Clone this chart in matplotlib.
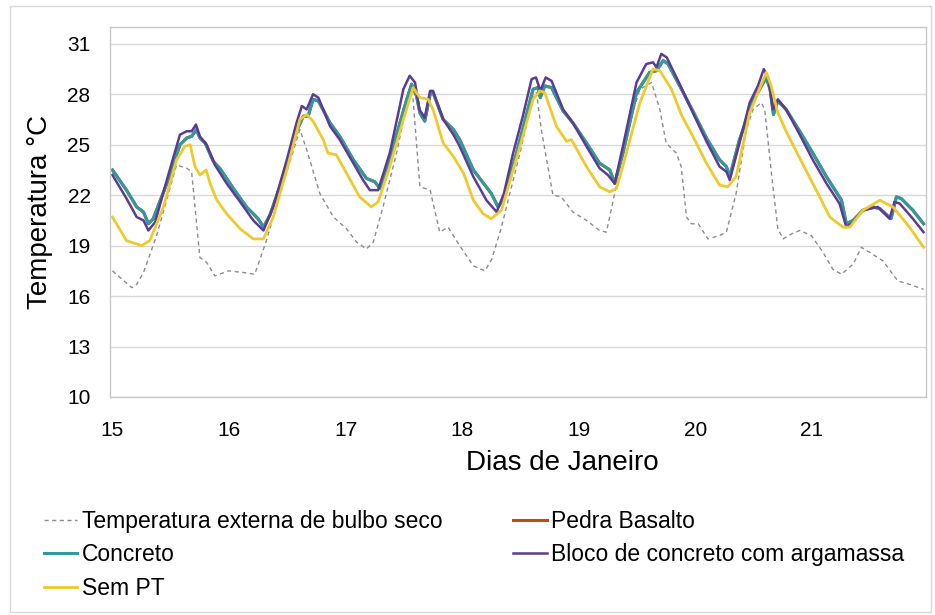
import matplotlib.pyplot as plt
from matplotlib.patches import Rectangle

# hours since 15 Jan 00:00 and temperature (degC)
ext_h = [0, 4, 5, 6.4, 9.1, 13.2, 15.3, 16.3, 18, 19.4, 21.1, 23.9, 27, 29.3,
         31.7, 34.5, 38.6, 40, 42.7, 45.5, 48.2, 50.3, 52.3, 53.7, 55.7, 58.5,
         61.2, 61.9, 63.3, 65.4, 67.4, 69.1, 71.5, 74.3, 76.7, 78.1, 80, 83.9,
         86.6, 87.3, 88.3, 90.7, 92.4, 94.8, 97.6, 100.3, 101.7, 103.4, 105.8,
         108.6, 111, 112.7, 114, 116.1, 117.1, 118.2, 119.2, 120.6, 122.6, 125,
         126.4, 128.4, 130.5, 131.9, 133.6, 134.3, 135.6, 137, 138.1, 139.8,
         141.5, 143.9, 146.3, 148.3, 150.1, 152.5, 154.2, 155.9, 158.6, 161.7,
         164.1, 167]
ext_t = [17.5, 16.5, 16.7, 17.4, 19.6, 23.8, 23.6, 23.4, 18.3, 18.0, 17.2, 17.5,
         17.4, 17.3, 19.3, 22.1, 25.9, 24.7, 22.1, 20.7, 20.0, 19.2, 18.8, 19.2,
         21.3, 24.5, 28.3, 27.7, 22.5, 22.3, 19.8, 20.1, 19.0, 17.8, 17.5, 18.2,
         20.0, 24.5, 27.9, 28.1, 25.9, 22.0, 21.9, 21.0, 20.5, 19.9, 19.8, 22.1,
         25.7, 28.3, 28.7, 27.1, 25.1, 24.5, 23.7, 20.7, 20.3, 20.3, 19.4, 19.6,
         19.8, 22.1, 25.9, 27.1, 27.5, 27.1, 23.5, 20.0, 19.4, 19.7, 19.9, 19.6,
         18.6, 17.6, 17.3, 17.9, 18.9, 18.6, 18.1, 16.9, 16.7, 16.4]

conc_h = [0, 2.9, 5, 6.4, 7.4, 8.4, 11.2, 13.9, 15.3, 16.3, 17.3, 18, 19.1, 20.8,
          22.1, 24.9, 27.6, 30, 31.1, 32.4, 35.2, 37.9, 39.3, 40.3, 41.3, 42.4,
          44.8, 46.8, 49.6, 52.3, 54, 55.1, 57.8, 60.6, 61.6, 62.6, 63.3, 64.3,
          65.4, 66, 68.1, 70.2, 71.5, 74.3, 78, 79.4, 80.6, 83.2, 86.6, 87.6,
          88.1, 89, 90.4, 92.8, 94.8, 97.6, 100.3, 102.4, 103.4, 105.1, 107.9,
          110.6, 112, 113.4, 114.4, 116.8, 119.5, 122.3, 125, 126.4, 127.1,
          129.1, 131.9, 134.6, 135.4, 136.1, 137, 138.7, 141.5, 144.2, 147,
          150.1, 151.1, 152.5, 154.5, 156.6, 158, 160.3, 161.4, 162.4, 164.8, 167]
conc_t = [23.5, 22.3, 21.3, 21.0, 20.3, 20.6, 22.7, 25.0, 25.4, 25.5, 25.9, 25.4,
          25.1, 24.0, 23.6, 22.4, 21.3, 20.6, 20.1, 20.8, 23.1, 25.8, 26.7, 26.7,
          27.7, 27.6, 26.3, 25.5, 24.1, 23.0, 22.8, 22.4, 24.9, 27.7, 28.6, 27.9,
          26.9, 26.4, 28.0, 28.1, 26.5, 25.9, 25.3, 23.5, 22.1, 21.3, 21.8, 24.5,
          28.3, 28.4, 27.8, 28.5, 28.4, 27.0, 26.3, 25.1, 23.9, 23.5, 22.7, 24.5,
          28.1, 29.3, 29.4, 30.0, 29.8, 28.5, 27.0, 25.4, 24.1, 23.7, 23.1, 25.3,
          27.6, 29.0, 28.3, 26.8, 27.6, 27.1, 25.8, 24.5, 23.1, 21.7, 20.3, 20.5,
          21.1, 21.3, 21.2, 20.6, 21.9, 21.8, 21.1, 20.3]

pedra_t = [23.5, 22.3, 21.3, 21.0, 20.3, 20.6, 22.7, 25.0, 25.4, 25.5, 25.9, 25.4,
           25.1, 24.0, 23.6, 22.4, 21.3, 20.6, 20.1, 20.8, 23.1, 25.8, 26.7, 26.7,
           27.7, 27.6, 26.3, 25.5, 24.1, 23.0, 22.8, 22.4, 24.9, 27.7, 28.6, 27.9,
           26.9, 26.4, 28.0, 28.1, 26.5, 25.9, 25.3, 23.5, 22.1, 21.3, 21.8, 24.5,
           28.3, 28.4, 27.8, 28.5, 28.4, 27.0, 26.3, 25.1, 23.9, 23.5, 22.7, 24.5,
           28.1, 29.3, 29.4, 30.0, 29.8, 28.5, 27.0, 25.4, 24.1, 23.7, 23.1, 25.3,
           27.6, 29.0, 28.3, 26.8, 27.6, 27.1, 25.8, 24.5, 23.1, 21.7, 20.3, 20.5,
           21.1, 21.3, 21.2, 20.6, 21.9, 21.8, 21.1, 20.3]

bloco_h = [0, 2.9, 5, 6.4, 7.4, 8.8, 11.2, 13.9, 15.3, 16.3, 17.2, 18, 19.4, 21.1,
           23.5, 26.3, 29, 31.1, 33.1, 35.9, 37.9, 39, 40, 41.3, 42.4, 44.8, 46.8,
           49.6, 51.6, 53, 54.7, 57.1, 59.9, 61.2, 62.3, 63.2, 64.3, 65.4, 66,
           68.1, 70.2, 71.5, 74.3, 77, 79.1, 80.6, 82.5, 84.5, 86.3, 87.2, 88.1,
           89.2, 90.4, 92.8, 94.8, 97.6, 100.3, 102, 103.4, 105.1, 107.9, 109.9,
           111.3, 112, 113, 114.1, 116.8, 119.5, 122.3, 125, 126.4, 127.1, 129.1,
           131.2, 132.9, 134.1, 135, 136, 137, 138.7, 141.5, 144.2, 147, 149.7,
           151.1, 152.5, 154.5, 157.6, 160, 161, 162.1, 164.8, 167]
bloco_t = [23.2, 21.8, 20.7, 20.5, 19.9, 20.4, 22.9, 25.6, 25.8, 25.8, 26.2, 25.5,
           25.0, 23.8, 22.7, 21.6, 20.5, 19.9, 21.3, 24.1, 26.3, 27.3, 27.1, 28.0,
           27.8, 26.1, 25.3, 23.9, 22.9, 22.3, 22.3, 24.5, 28.3, 29.1, 28.7, 27.1,
           26.6, 28.2, 28.2, 26.5, 25.6, 24.9, 23.1, 21.7, 21.0, 22.1, 24.5, 26.7,
           28.9, 29.0, 28.2, 29.0, 28.8, 27.1, 26.3, 24.9, 23.6, 23.2, 22.7, 24.9,
           28.7, 29.8, 29.9, 29.6, 30.4, 30.2, 28.6, 26.9, 25.2, 23.7, 23.4, 22.9,
           25.1, 27.5, 28.5, 29.5, 29.0, 27.1, 27.7, 27.1, 25.6, 24.1, 22.7, 21.5,
           20.1, 20.4, 21.1, 21.3, 20.6, 21.6, 21.5, 20.6, 19.8]

sem_h = [0, 2.9, 6, 7.7, 10.5, 13.2, 14.9, 16, 17, 18, 19.3, 20.1, 21.5, 23.5,
         26.3, 29, 31.1, 33.1, 35.9, 38.6, 40, 41.3, 43.4, 44.4, 46.1, 48.2, 50.9,
         53.3, 54.7, 57.1, 59.9, 61.9, 63.3, 65, 66, 68.1, 70.2, 72.3, 74.3, 76.3,
         78, 80.1, 83.9, 86.6, 88, 89, 91.4, 93.5, 94.5, 97.6, 100.3, 102.4,
         103.8, 105.8, 108.6, 111.3, 112.7, 115.1, 117.1, 119.5, 122.3, 125,
         126.7, 128.4, 131.2, 133.2, 134.6, 135.6, 137, 138.7, 141.5, 144.9,
         147.7, 150.4, 151.8, 154.5, 158, 160.7, 164.1, 167]
sem_t = [20.7, 19.3, 19.0, 19.3, 21.3, 24.1, 24.9, 25.0, 23.7, 23.2, 23.5, 22.7,
         21.7, 20.9, 20.0, 19.4, 19.4, 20.7, 23.5, 26.5, 26.8, 26.4, 25.3, 24.5,
         24.4, 23.3, 21.9, 21.3, 21.6, 23.7, 26.5, 28.4, 27.8, 27.7, 27.1, 25.1,
         24.3, 23.3, 21.7, 20.9, 20.6, 21.1, 24.9, 27.7, 28.2, 28.1, 26.1, 25.2,
         25.3, 23.7, 22.5, 22.2, 22.4, 24.5, 27.5, 29.5, 29.4, 28.3, 26.8, 25.5,
         23.9, 22.6, 22.5, 23.1, 26.9, 28.3, 29.3, 28.5, 26.9, 25.8, 24.2, 22.3,
         20.7, 20.1, 20.1, 21.1, 21.7, 21.3, 20.1, 18.9]

days = [15, 16, 17, 18, 19, 20, 21]
yticks = [10, 13, 16, 19, 22, 25, 28, 31]

def to_day(hours):
    return [15 + h / 24 for h in hours]

plt.rcParams['font.family'] = ['Liberation Sans', 'DejaVu Sans']

fig = plt.figure(figsize=(9.35, 6.15), dpi=100)
ax = fig.add_axes([110 / 935, 1 - 397 / 615, 816 / 935, 370 / 615])

ln_ext, = ax.plot(to_day(ext_h), ext_t, color='#8c8c8c', lw=1.0,
                  dashes=(3, 2.5), label='Temperatura externa de bulbo seco')
ln_ped, = ax.plot(to_day(conc_h), pedra_t, color='#b4501e', lw=2.2,
                  label='Pedra Basalto')
ln_con, = ax.plot(to_day(conc_h), conc_t, color='#2e9c9c', lw=2.2,
                  label='Concreto')
ln_blo, = ax.plot(to_day(bloco_h), bloco_t, color='#5c3b94', lw=1.8,
                  label='Bloco de concreto com argamassa')
ln_sem, = ax.plot(to_day(sem_h), sem_t, color='#f0c92c', lw=2.0,
                  label='Sem PT')

ax.set_xlim(15 - 0.5 / 24, 15 + 167.5 / 24)
ax.set_ylim(10, 32)
ax.set_xticks(days)
ax.set_xticklabels([str(d) for d in days])
ax.set_yticks(yticks)
ax.tick_params(length=0, labelsize=15)
ax.tick_params(axis='x', pad=17)
ax.tick_params(axis='y', pad=14)
ax.grid(axis='y', color='#d9d9d9', lw=1)
ax.set_axisbelow(True)
for s in ax.spines.values():
    s.set_color('#c8c8c8')
    s.set_linewidth(1)

ax.set_ylabel('Temperatura °C', fontsize=20, labelpad=10)
fig.text(562 / 935, 1 - 463 / 615, 'Dias de Janeiro', fontsize=20,
         ha='center', va='center')

fig.legend(handles=[ln_ext, ln_con, ln_sem, ln_ped, ln_blo], ncol=2,
           loc='upper left', bbox_to_anchor=(44 / 935, 1 - 510 / 615),
           frameon=False, fontsize=16.5, handlelength=1.45, handletextpad=0.2,
           columnspacing=3.1, labelspacing=0.45, borderpad=0, borderaxespad=0)

fig.patches.append(Rectangle((10 / 935, 3 / 615), 921 / 935, 606 / 615,
                             transform=fig.transFigure, fill=False,
                             edgecolor='#d9d9d9', lw=1))

fig.savefig('out.png', dpi=100)
